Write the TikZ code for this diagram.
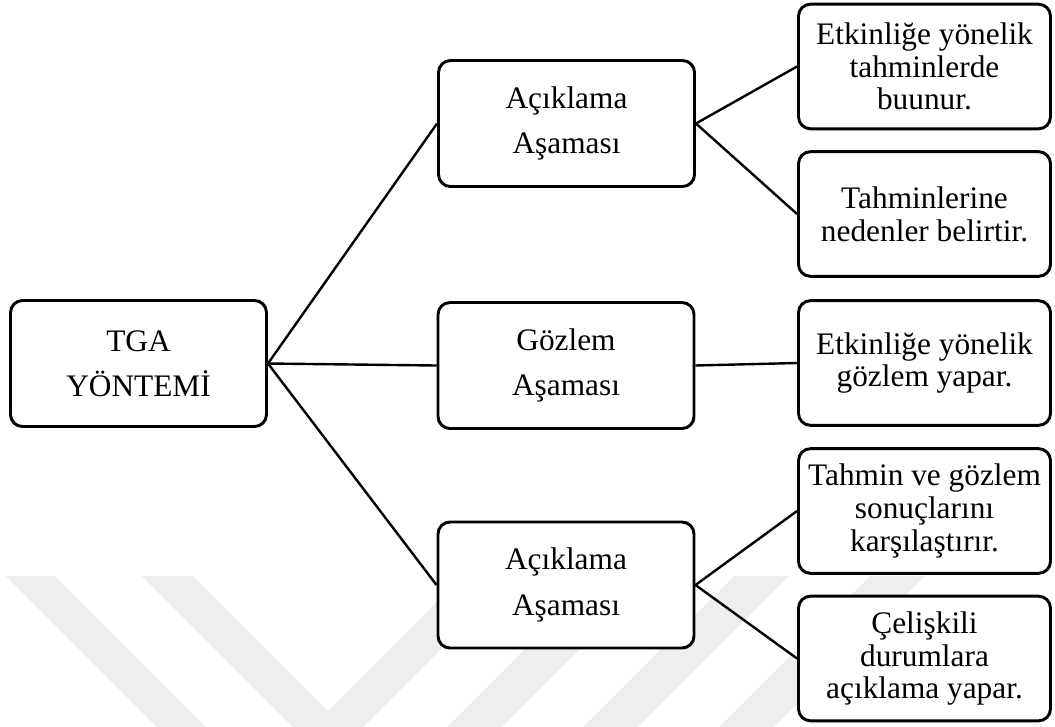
\documentclass[tikz,border=0pt]{standalone}
\usepackage{fontspec}
\setmainfont{Liberation Serif}
\definecolor{wmgray}{RGB}{238,238,238}
\begin{document}
\begin{tikzpicture}[x=0.75pt,y=-0.75pt,
  boxbase/.style={draw,line width=2.2pt,rounded corners=9pt,fill=white,align=center,inner sep=0pt},
  midbox/.style={boxbase,minimum width=192pt,minimum height=94.5pt,font=\fontsize{23.5}{34}\selectfont},
  leafbox/.style={boxbase,minimum width=189pt,minimum height=93.5pt,font=\fontsize{23.5}{24.6}\selectfont},
  conn/.style={line width=1.8pt},
  wm/.style={fill=wmgray}]
\useasboundingbox (0,0) rectangle (1055,726);
% watermark
\begin{scope}
\clip (0,0) rectangle (1055,726);
\fill[wm] (6,576) -- (55,576) -- (215,736) -- (166,736) -- cycle;
\fill[wm] (142,576) -- (193,576) -- (328,711) -- (463,576) -- (514,576) -- (328,762) -- cycle;
\fill[wm] (438,736) -- (493,736) -- (653,576) -- (598,576) -- cycle;
\fill[wm] (574,736) -- (629,736) -- (789,576) -- (734,576) -- cycle;
\fill[wm] (710,736) -- (765,736) -- (925,576) -- (870,576) -- cycle;
\end{scope}
% nodes
\node[midbox] (tga) at (138.5,363.5) {TGA\\YÖNTEMİ};
\node[midbox] (a1) at (566.5,123.5) {Açıklama\\Aşaması};
\node[midbox] (g) at (566,365.5) {Gözlem\\Aşaması};
\node[midbox] (a2) at (566,585) {Açıklama\\Aşaması};
\node[leafbox] (l1) at (924.5,66.5) {Etkinliğe yönelik\\tahminlerde\\buunur.};
\node[leafbox] (l2) at (924.5,214) {Tahminlerine\\nedenler belirtir.};
\node[leafbox] (l3) at (924.5,363) {Etkinliğe yönelik\\gözlem yapar.};
\node[leafbox] (l4) at (924.5,511) {Tahmin ve gözlem\\sonuçlarını\\karşılaştırır.};
\node[leafbox] (l5) at (924.5,658.5) {Çelişkili\\durumlara\\açıklama yapar.};
% connectors
\draw[conn] (tga.east) -- (a1.west);
\draw[conn] (tga.east) -- (g.west);
\draw[conn] (tga.east) -- (a2.west);
\draw[conn] (a1.east) -- (l1.west);
\draw[conn] (a1.east) -- (l2.west);
\draw[conn] (g.east) -- (l3.west);
\draw[conn] (a2.east) -- (l4.west);
\draw[conn] (a2.east) -- (l5.west);
\end{tikzpicture}
\end{document}
